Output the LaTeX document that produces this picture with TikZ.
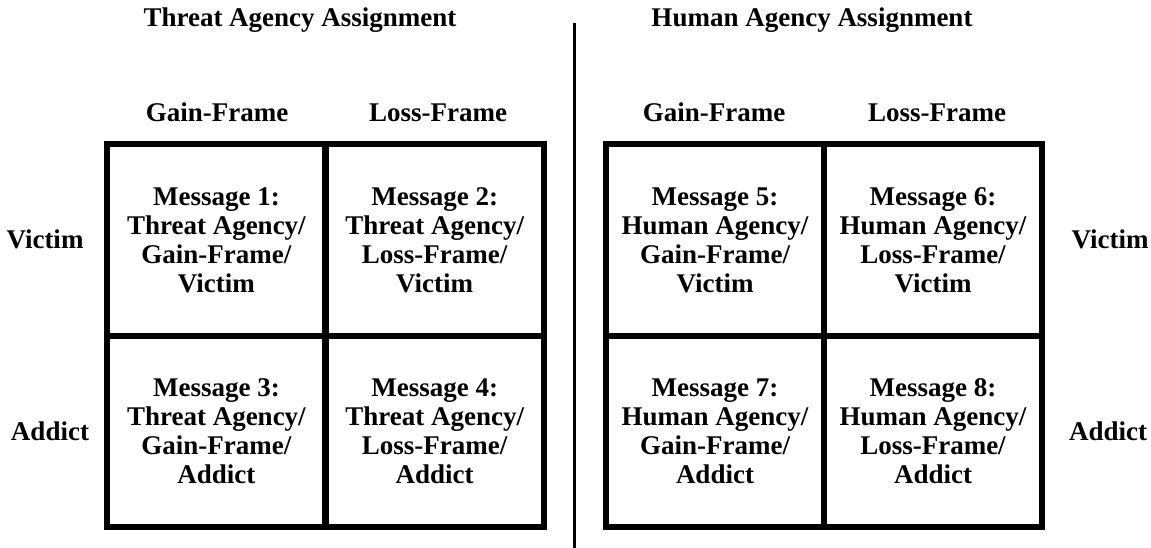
\documentclass[tikz,border=0pt]{standalone}
\usepackage{fontspec}
\setmainfont{Liberation Serif}
\tikzset{
  lbl/.style={font=\fontsize{27}{29}\selectfont\bfseries, inner sep=0pt, anchor=base},
  cell/.style={draw, line width=6pt, minimum width=218.5pt, minimum height=191.5pt,
    align=center, font=\fontsize{27}{29}\selectfont\bfseries, inner sep=0pt},
  divider/.style={line width=2.4pt}
}
\begin{document}
\begin{tikzpicture}[x=1pt,y=-1pt]
\useasboundingbox (0,0) rectangle (1151,548);

% section titles
\node[lbl] (t1) at (300,27) {Threat Agency Assignment};
\node[lbl] (t2) at (812,27) {Human Agency Assignment};

% divider between the two designs
\coordinate (dtop) at (574.5,23);
\coordinate (dbot) at (574.5,548);
\draw[divider] (dtop) -- (dbot);

% column headings
\node[lbl] (g1) at (217,122) {Gain-Frame};
\node[lbl] (l1) at (438,122) {Loss-Frame};
\node[lbl] (g2) at (714,122) {Gain-Frame};
\node[lbl] (l2) at (937,122) {Loss-Frame};

% row headings
\node[lbl] (v1) at (45,248) {Victim};
\node[lbl] (a1) at (50,440) {Addict};
\node[lbl] (v2) at (1110,248) {Victim};
\node[lbl] (a2) at (1108,440) {Addict};

% threat agency grid
\node[cell] (m1) at (216.4,240) {Message 1:\\Threat Agency/\\Gain-Frame/\\Victim};
\node[cell] (m2) at (434.7,240) {Message 2:\\Threat Agency/\\Loss-Frame/\\Victim};
\node[cell] (m3) at (216.4,431.5) {Message 3:\\Threat Agency/\\Gain-Frame/\\Addict};
\node[cell] (m4) at (434.7,431.5) {Message 4:\\Threat Agency/\\Loss-Frame/\\Addict};

% human agency grid
\node[cell] (m5) at (715,240) {Message 5:\\Human Agency/\\Gain-Frame/\\Victim};
\node[cell] (m6) at (933,240) {Message 6:\\Human Agency/\\Loss-Frame/\\Victim};
\node[cell] (m7) at (715,431.5) {Message 7:\\Human Agency/\\Gain-Frame/\\Addict};
\node[cell] (m8) at (933,431.5) {Message 8:\\Human Agency/\\Loss-Frame/\\Addict};
\end{tikzpicture}
\end{document}
